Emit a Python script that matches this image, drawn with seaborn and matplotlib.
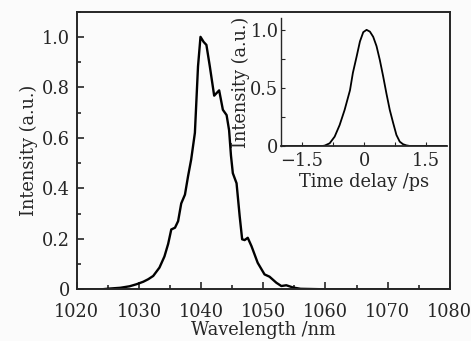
import numpy as np
import matplotlib
matplotlib.use('Agg')
import matplotlib.pyplot as plt
from matplotlib.ticker import MultipleLocator, FuncFormatter
import seaborn as sns

sns.set_style("ticks")
plt.rcParams['font.family'] = ['DejaVu Serif']
plt.rcParams['mathtext.fontset'] = 'dejavuserif'

# spectrum
wavelength = [1020, 1022, 1024, 1025.3, 1027, 1028.5, 1029.6, 1030.7, 1031.5, 1032.3,
              1033.3, 1034.1, 1034.7, 1035.2, 1035.8, 1036.3, 1036.8, 1037.4, 1037.9,
              1038.4, 1039.0, 1039.5, 1039.9, 1040.4, 1040.85, 1041.4, 1042.1, 1042.9,
              1043.5, 1044.1, 1044.5, 1044.8, 1045.1, 1045.7, 1046.2, 1046.6, 1047.0,
              1047.5, 1048.1, 1049.1, 1050.2, 1051.0, 1052.1, 1052.9, 1053.7, 1054.8,
              1056, 1060, 1070, 1080]
intensity = [0, 0, 0, 0.003, 0.006, 0.012, 0.02, 0.03, 0.04, 0.053,
             0.086, 0.13, 0.18, 0.237, 0.244, 0.27, 0.34, 0.375, 0.448,
             0.514, 0.62, 0.883, 1.0, 0.98, 0.968, 0.883, 0.767, 0.788,
             0.711, 0.69, 0.63, 0.53, 0.46, 0.42, 0.29, 0.198, 0.195,
             0.204, 0.171, 0.105, 0.059, 0.05, 0.026, 0.013, 0.016, 0.007,
             0.002, 0, 0, 0]

# autocorrelation trace (inset)
delay = [-2.0, -1.5, -1.0, -0.95, -0.83, -0.71, -0.59, -0.47, -0.34, -0.27, -0.18,
         -0.10, -0.02, 0.06, 0.14, 0.22, 0.30, 0.38, 0.46, 0.54, 0.62, 0.70,
         0.78, 0.86, 0.94, 1.02, 1.1, 1.5, 2.0]
ac = [0, 0, 0, 0.003, 0.023, 0.08, 0.18, 0.31, 0.48, 0.63, 0.77,
      0.90, 0.98, 1.0, 0.985, 0.94, 0.86, 0.74, 0.60, 0.45, 0.31, 0.20,
      0.095, 0.037, 0.015, 0.005, 0, 0, 0]

bg = '#fbfbfb'
fs = 12.8
fig = plt.figure(figsize=(4.71, 3.41), dpi=100, facecolor=bg)
ax = fig.add_axes([0.163, 0.1516, 0.792, 0.8144])
ax.set_facecolor(bg)

sns.lineplot(x=wavelength, y=intensity, ax=ax, color='black', linewidth=1.7)
ax.set_xlim(1020, 1080)
ax.set_ylim(0, 1.1)
ax.xaxis.set_major_locator(MultipleLocator(10))
ax.xaxis.set_minor_locator(MultipleLocator(5))
ax.yaxis.set_major_locator(MultipleLocator(0.2))
ax.yaxis.set_minor_locator(MultipleLocator(0.1))
ax.yaxis.set_major_formatter(FuncFormatter(lambda v, p: '0' if abs(v) < 1e-9 else f'{v:.1f}'))
ax.tick_params(which='both', direction='in', width=1.2, labelsize=fs)
ax.tick_params(axis='y', pad=5)
ax.tick_params(axis='x', pad=10)
ax.tick_params(which='major', length=5)
ax.tick_params(which='minor', length=3)
for s in ax.spines.values():
    s.set_linewidth(1.4)
ax.set_xlabel('Wavelength /nm', fontsize=fs, labelpad=0)
ax.set_ylabel('Intensity (a.u.)', fontsize=fs, labelpad=3)

ins = fig.add_axes([0.597, 0.572, 0.352, 0.3745])
ins.patch.set_alpha(0)
sns.lineplot(x=delay, y=ac, ax=ins, color='black', linewidth=1.3)
ins.set_xlim(-2, 2)
ins.set_ylim(0, 1.1)
ins.set_xticks([-1.5, 0, 1.5])
ins.set_xticklabels(['\u22121.5', '0', '1.5'])
ins.xaxis.set_minor_locator(MultipleLocator(0.75))
ins.set_yticks([0, 0.5, 1.0])
ins.set_yticklabels(['0', '0.5', '1.0'])
ins.yaxis.set_minor_locator(MultipleLocator(0.25))
ins.tick_params(which='both', direction='in', width=0.8, length=3, labelsize=fs)
ins.tick_params(axis='x', pad=4.5)
ins.tick_params(axis='y', pad=2)
ins.spines['top'].set_visible(False)
ins.spines['right'].set_visible(False)
ins.spines['left'].set_linewidth(1.0)
ins.spines['bottom'].set_linewidth(1.3)
ins.set_xlabel('Time delay /ps', fontsize=fs, labelpad=2)
ins.set_ylabel('Intensity (a.u.)', fontsize=fs, labelpad=0)

fig.savefig('out.png', dpi=100, facecolor=bg)
